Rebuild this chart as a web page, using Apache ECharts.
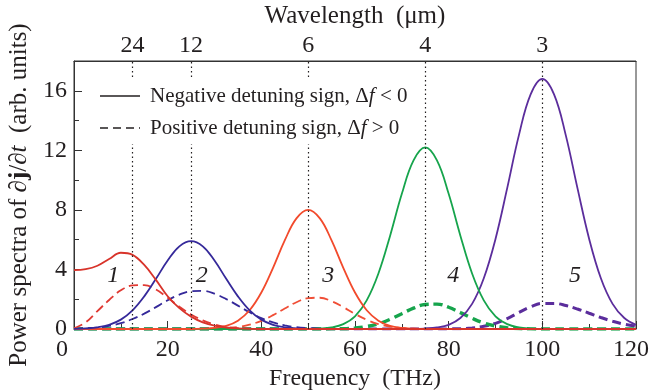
<!DOCTYPE html>
<html>
<head>
<meta charset="utf-8">
<script src="https://cdn.jsdelivr.net/npm/echarts@6/dist/echarts.min.js"></script>
<style>
  html, body { margin: 0; padding: 0; background: #fff; }
  #chart { width: 651px; height: 391px; }
</style>
</head>
<body>
<div id="chart"></div>
<script>
// frequency grid (THz)
const freqs = [0, 2.5, 5, 7.5, 10, 12.5, 15, 17.5, 20, 22.5, 25, 27.5, 30, 32.5, 35, 37.5, 40, 42.5, 45, 47.5,
  50, 52.5, 55, 57.5, 60, 62.5, 65, 67.5, 70, 72.5, 75, 77.5, 80, 82.5, 85, 87.5, 90, 92.5, 95, 97.5,
  100, 102.5, 105, 107.5, 110, 112.5, 115, 117.5, 120];

// negative detuning (solid)
const neg1 = [3.95, 4.02, 4.25, 4.7, 5.12, 4.98, 4.3, 3.3, 2.2, 1.4, 0.83, 0.45, 0.22, 0.1, 0.04, 0.01,
  0, 0, 0, 0, 0, 0, 0, 0, 0, 0, 0, 0, 0, 0, 0, 0, 0, 0, 0, 0, 0, 0, 0, 0, 0, 0, 0, 0, 0, 0, 0, 0, 0];
const neg2 = [0.01, 0.04, 0.11, 0.28, 0.63, 1.25, 2.19, 3.37, 4.6, 5.55, 5.9, 5.55, 4.6, 3.37, 2.19, 1.25,
  0.63, 0.28, 0.11, 0.04, 0.01, 0, 0, 0, 0, 0, 0, 0, 0, 0, 0, 0, 0, 0, 0, 0, 0, 0, 0, 0, 0, 0, 0, 0, 0, 0, 0, 0, 0];
const neg3 = [0, 0, 0, 0, 0, 0, 0, 0, 0, 0, 0, 0.02, 0.07, 0.21, 0.56, 1.26, 2.45, 4.11, 5.95, 7.43,
  8.0, 7.43, 5.95, 4.11, 2.45, 1.26, 0.56, 0.21, 0.07, 0.02, 0, 0, 0, 0, 0, 0, 0, 0, 0, 0, 0, 0, 0, 0, 0, 0, 0, 0, 0];
const neg4 = [0, 0, 0, 0, 0, 0, 0, 0, 0, 0, 0, 0, 0, 0, 0, 0, 0, 0, 0, 0, 0, 0.03, 0.11, 0.33, 0.85,
  1.92, 3.73, 6.27, 9.08, 11.33, 12.2, 11.33, 9.08, 6.27, 3.73, 1.92, 0.85, 0.33, 0.11, 0.03, 0, 0, 0, 0, 0, 0, 0, 0, 0];
const neg5 = [0, 0, 0, 0, 0, 0, 0, 0, 0, 0, 0, 0, 0, 0, 0, 0, 0, 0, 0, 0, 0, 0, 0, 0, 0, 0, 0, 0, 0, 0,
  0.03, 0.1, 0.28, 0.74, 1.69, 3.41, 6.05, 9.46, 13.02, 15.76, 16.8, 15.76, 13.02, 9.46, 6.05, 3.41, 1.69, 0.74, 0.28];

// positive detuning (dashed)
const pos1 = [0.05, 0.45, 1.2, 1.95, 2.6, 2.93, 2.95, 2.65, 2.1, 1.5, 0.98, 0.58, 0.3, 0.14, 0.06, 0.02,
  0, 0, 0, 0, 0, 0, 0, 0, 0, 0, 0, 0, 0, 0, 0, 0, 0, 0, 0, 0, 0, 0, 0, 0, 0, 0, 0, 0, 0, 0, 0, 0, 0];
const pos2 = [0.02, 0.05, 0.1, 0.21, 0.39, 0.67, 1.03, 1.47, 1.93, 2.31, 2.54, 2.56, 2.37, 2.01, 1.57, 1.12,
  0.73, 0.44, 0.24, 0.12, 0.06, 0.02, 0.01, 0, 0, 0, 0, 0, 0, 0, 0, 0, 0, 0, 0, 0, 0, 0, 0, 0, 0, 0, 0, 0, 0, 0, 0, 0, 0];
const pos3 = [0, 0, 0, 0, 0, 0, 0, 0, 0, 0, 0, 0, 0.02, 0.05, 0.13, 0.29, 0.55, 0.93, 1.38, 1.8,
  2.07, 2.1, 1.87, 1.47, 1.01, 0.62, 0.33, 0.16, 0.06, 0.02, 0.01, 0, 0, 0, 0, 0, 0, 0, 0, 0, 0, 0, 0, 0, 0, 0, 0, 0, 0];
const pos4 = [0, 0, 0, 0, 0, 0, 0, 0, 0, 0, 0, 0, 0, 0, 0, 0, 0, 0, 0, 0, 0, 0, 0.01, 0.02, 0.07,
  0.17, 0.35, 0.65, 1.03, 1.4, 1.65, 1.67, 1.46, 1.1, 0.72, 0.4, 0.2, 0.08, 0.03, 0.01, 0, 0, 0, 0, 0, 0, 0, 0, 0];
const pos5 = [0, 0, 0, 0, 0, 0, 0, 0, 0, 0, 0, 0, 0, 0, 0, 0, 0, 0, 0, 0, 0, 0, 0, 0, 0, 0, 0, 0, 0, 0, 0, 0,
  0.01, 0.02, 0.07, 0.18, 0.38, 0.7, 1.11, 1.49, 1.72, 1.72, 1.58, 1.34, 1.06, 0.77, 0.52, 0.32, 0.19];

// top axis: wavelength ticks
const wavelengthFreqs = [12.5, 25, 50, 75, 100];
const wavelengthLabels = ['24', '12', '6', '4', '3'];

// curve numbers
const curveNames = ['1', '2', '3', '4', '5'];
const curveNameFreqs = [8.4, 27.3, 54.3, 81, 107];
const curveNameLevels = [3.6, 3.6, 3.6, 3.6, 3.6];

const SERIF = 'Liberation Serif';
const INK = '#231f20';

function pairs(ys) {
  return freqs.map((f, i) => [f, ys[i]]);
}

function curve(name, ys, color, dashed, width) {
  return {
    name: name,
    type: 'line',
    data: pairs(ys),
    smooth: 0.4,
    showSymbol: false,
    silent: true,
    lineStyle: { color: color, width: width, type: dashed ? [9, 5] : 'solid' }
  };
}

const chart = echarts.init(document.getElementById('chart'));

const series = [
  curve('pos5', pos5, '#5b2d9c', true, 3),
  curve('pos4', pos4, '#16a44c', true, 3.4),
  curve('pos3', pos3, '#f04e36', true, 1.8),
  curve('pos2', pos2, '#35299a', true, 1.8),
  curve('pos1', pos1, '#e03a33', true, 1.8),
  curve('neg5', neg5, '#5b2d9c', false, 1.8),
  curve('neg4', neg4, '#16a44c', false, 1.8),
  curve('neg3', neg3, '#f24a2c', false, 1.8),
  curve('neg2', neg2, '#35299a', false, 1.8),
  curve('neg1', neg1, '#d8332a', false, 1.8)
];

// dotted wavelength guides
series[0].markLine = {
  silent: true,
  symbol: ['none', 'none'],
  label: { show: false },
  lineStyle: { color: INK, width: 1.2, type: [1.5, 3] },
  data: wavelengthFreqs.map(f => ({ xAxis: f }))
};

series.push({
  type: 'scatter',
  silent: true,
  symbolSize: 0,
  itemStyle: { opacity: 1 },
  data: curveNames.map((n, i) => [curveNameFreqs[i], curveNameLevels[i], n]),
  label: {
    show: true,
    position: 'inside',
    formatter: p => p.data[2],
    fontFamily: SERIF,
    fontStyle: 'italic',
    fontSize: 24,
    color: INK,
    opacity: 1,
    textBorderWidth: 0,
    textBorderColor: 'transparent'
  }
});

chart.setOption({
  animation: false,
  backgroundColor: '#fff',
  grid: {
    left: 74, right: 15, top: 61, bottom: 62,
    outerBoundsMode: 'none',
    containLabel: false,
    show: true, borderColor: '#333', borderWidth: 1
  },
  xAxis: [
    {
      type: 'value',
      position: 'bottom',
      min: 0,
      max: 120,
      interval: 20,
      name: 'Frequency  (THz)',
      nameLocation: 'middle',
      nameGap: 31,
      nameTextStyle: { fontFamily: SERIF, fontSize: 24, color: INK },
      axisLine: { lineStyle: { color: '#333', width: 1 } },
      axisTick: { inside: true, length: 8, lineStyle: { color: '#333' } },
      minorTick: { show: true, splitNumber: 2, length: 5, lineStyle: { color: '#333' } },
      splitLine: { show: false },
      axisLabel: {
        fontFamily: SERIF,
        fontSize: 24,
        color: INK,
        margin: 9,
        // end labels sit a little left of their ticks in the original
        formatter: v => (v === 0 ? '{lo|0}' : v === 120 ? '{hi|120}' : String(v)),
        rich: {
          lo: { fontFamily: SERIF, fontSize: 24, color: INK, padding: [0, 24, 0, 0] },
          hi: { fontFamily: SERIF, fontSize: 24, color: INK, padding: [0, 10, 0, 0] }
        }
      }
    },
    {
      type: 'value',
      position: 'top',
      min: 0,
      max: 120,
      name: 'Wavelength  (\u03bcm)',
      nameLocation: 'middle',
      nameGap: 24,
      nameTextStyle: { fontFamily: SERIF, fontSize: 25, color: INK },
      axisLine: { lineStyle: { color: '#333', width: 1 } },
      axisTick: { show: false },
      splitLine: { show: false },
      axisLabel: {
        customValues: wavelengthFreqs,
        formatter: v => wavelengthLabels[wavelengthFreqs.indexOf(v)],
        fontFamily: SERIF,
        fontSize: 24,
        color: INK,
        margin: 3
      }
    }
  ],
  yAxis: {
    type: 'value',
    min: 0,
    max: 18,
    interval: 4,
    name: 'Power spectra of {i|\u2202}{b|j}/{i|\u2202t}  (arb. units)',
    nameLocation: 'middle',
    nameGap: 42,
    nameTextStyle: {
      fontFamily: SERIF,
      fontSize: 25,
      color: INK,
      rich: {
        i: { fontFamily: SERIF, fontSize: 25, fontStyle: 'italic', color: INK },
        b: { fontFamily: SERIF, fontSize: 25, fontWeight: 'bold', color: INK }
      }
    },
    axisLine: { show: true, lineStyle: { color: '#333', width: 1 } },
    axisTick: { inside: true, length: 8, lineStyle: { color: '#333' } },
    minorTick: { show: true, splitNumber: 2, length: 5, lineStyle: { color: '#333' } },
    splitLine: { show: false },
    axisLabel: {
      formatter: v => (v > 16 ? '' : String(v)),
      fontFamily: SERIF,
      fontSize: 24,
      color: INK,
      margin: 7
    }
  },
  graphic: [
    { type: 'rect', z: 100, shape: { x: 93, y: 80, width: 322, height: 64 }, style: { fill: '#fff' } },
    { type: 'line', z: 101, shape: { x1: 100, y1: 96, x2: 140, y2: 96 }, style: { stroke: INK, lineWidth: 1.6 } },
    { type: 'line', z: 101, shape: { x1: 100, y1: 128, x2: 140, y2: 128 }, style: { stroke: INK, lineWidth: 1.6, lineDash: [8, 5] } },
    {
      type: 'text', z: 101, x: 150, y: 96,
      style: {
        text: 'Negative detuning sign, \u0394{f|f} < 0',
        font: '21px ' + SERIF,
        fill: INK,
        verticalAlign: 'middle',
        rich: { f: { fontFamily: SERIF, fontSize: 21, fontStyle: 'italic', fill: INK } }
      }
    },
    {
      type: 'text', z: 101, x: 150, y: 128,
      style: {
        text: 'Positive detuning sign, \u0394{f|f} > 0',
        font: '21px ' + SERIF,
        fill: INK,
        verticalAlign: 'middle',
        rich: { f: { fontFamily: SERIF, fontSize: 21, fontStyle: 'italic', fill: INK } }
      }
    }
  ],
  series: series
});
</script>
</body>
</html>
